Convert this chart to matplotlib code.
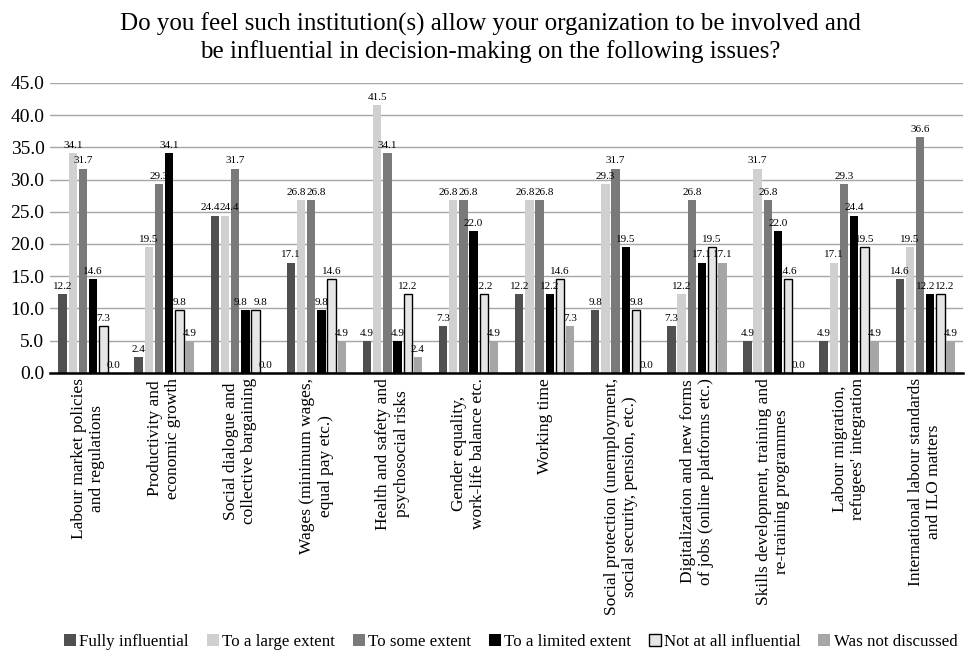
import numpy as np
import matplotlib.pyplot as plt
from matplotlib.ticker import FormatStrFormatter

plt.rcParams['font.family'] = ['Liberation Serif', 'DejaVu Serif']

categories = [
    'Labour market policies\nand regulations',
    'Productivity and\neconomic growth',
    'Social dialogue and\ncollective bargaining',
    'Wages (minimum wages,\nequal pay etc.)',
    'Health and safety and\npsychosocial risks',
    'Gender equality,\nwork-life balance etc.',
    'Working time',
    'Social protection (unemployment,\nsocial security, pension, etc.)',
    'Digitalization and new forms\nof jobs (online platforms etc.)',
    'Skills development, training and\nre-training programmes',
    'Labour migration,\nrefugees\' integration',
    'International labour standards\nand ILO matters',
]

series_names = ['Fully influential', 'To a large extent', 'To some extent',
                'To a limited extent', 'Not at all influential', 'Was not discussed']

fully = [12.2, 2.4, 24.4, 17.1, 4.9, 7.3, 12.2, 9.8, 7.3, 4.9, 4.9, 14.6]
large = [34.1, 19.5, 24.4, 26.8, 41.5, 26.8, 26.8, 29.3, 12.2, 31.7, 17.1, 19.5]
some = [31.7, 29.3, 31.7, 26.8, 34.1, 26.8, 26.8, 31.7, 26.8, 26.8, 29.3, 36.6]
limited = [14.6, 34.1, 9.8, 9.8, 4.9, 22.0, 12.2, 19.5, 17.1, 22.0, 24.4, 12.2]
not_at_all = [7.3, 9.8, 9.8, 14.6, 12.2, 12.2, 14.6, 9.8, 19.5, 14.6, 19.5, 12.2]
not_discussed = [0.0, 4.9, 0.0, 4.9, 2.4, 4.9, 7.3, 0.0, 17.1, 0.0, 4.9, 4.9]

all_series = [fully, large, some, limited, not_at_all, not_discussed]
colors = ['#505050', '#d0d0d0', '#7a7a7a', '#000000', '#e6e6e6', '#a6a6a6']
edges = [None, None, None, None, '#000000', None]

fig = plt.figure(figsize=(9.71, 6.52), dpi=100)
ax = fig.add_axes([0.0515, 0.428, 0.9405, 0.445])

x = np.arange(len(categories))
width = 0.11
step = 0.134
vals_arr = np.array(all_series)
for i, (vals, c, ec) in enumerate(zip(all_series, colors, edges)):
    pos = x + (i - 2.5) * step
    if ec:
        ax.bar(pos, vals, width, color=c, edgecolor=ec, linewidth=1.0,
               label=series_names[i], zorder=3)
    else:
        ax.bar(pos, vals, width, color=c, label=series_names[i], zorder=3)

# value labels, nudged apart where neighbours sit at about the same height
for g in range(len(categories)):
    col = vals_arr[:, g]
    shifts = np.zeros(6)
    for i in range(5):
        if abs(col[i] - col[i + 1]) < 2.0:
            shifts[i] -= 0.06
            shifts[i + 1] += 0.06
    for i in range(6):
        px = g + (i - 2.5) * step + shifts[i]
        ax.text(px, col[i] + 0.5, '%.1f' % col[i], ha='center', va='bottom',
                fontsize=8, zorder=4)

ax.set_ylim(0, 45)
ax.set_xlim(-0.5, len(categories) - 0.5)
ax.set_yticks(np.arange(0, 46, 5))
ax.yaxis.set_major_formatter(FormatStrFormatter('%.1f'))
ax.grid(axis='y', color='#a6a6a6', linewidth=1.0, zorder=0)
ax.set_axisbelow(True)
for s in ['top', 'right', 'left']:
    ax.spines[s].set_visible(False)
ax.spines['bottom'].set_linewidth(1.8)
ax.spines['bottom'].set_zorder(5)
ax.tick_params(axis='both', length=0)
ax.tick_params(axis='y', labelsize=14, pad=4)
ax.set_xticks(x)
ax.set_xticklabels(categories, rotation=90, ha='center', va='top',
                   multialignment='center', fontsize=12.5)

fig.text(0.505, 0.98,
         'Do you feel such institution(s) allow your organization to be involved and\n'
         'be influential in decision-making on the following issues?',
         ha='center', va='top', fontsize=18, linespacing=1.18)

fig.legend(loc='lower center', bbox_to_anchor=(0.526, -0.02), ncol=6, frameon=False,
           fontsize=12.2, handlelength=0.7, handleheight=0.7, handletextpad=0.2,
           columnspacing=1.05)

fig.savefig('out.png', dpi=100)
